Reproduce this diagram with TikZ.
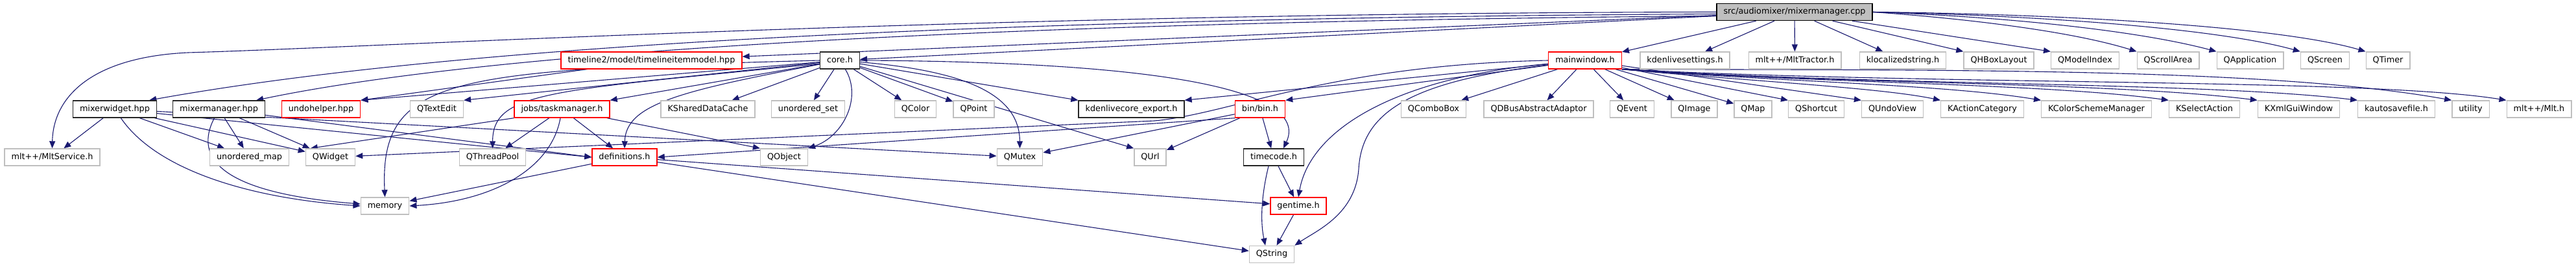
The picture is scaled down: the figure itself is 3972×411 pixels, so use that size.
\documentclass[tikz,border=0pt]{standalone}
\usepackage{fontspec}
\setmainfont{DejaVu Sans}
\usetikzlibrary{arrows.meta, backgrounds}
\definecolor{edgeblue}{RGB}{25,25,112}
\definecolor{extgray}{RGB}{191,191,191}

\tikzset{
  box/.style={rectangle, fill=white, line width=1.4pt, minimum height=26pt,
    inner xsep=10.5pt, inner ysep=0pt, text height=9.6pt, text depth=2.6pt,
    font=\fontsize{12.8pt}{15pt}\selectfont},
  srcbox/.style={box, draw=black, fill=extgray},
  docbox/.style={box, draw=black!85},
  redbox/.style={box, draw=red},
  extbox/.style={box, draw=extgray},
  dep/.style={draw=edgeblue, line width=1.1pt, -{Triangle[length=11pt,width=9pt]}},
}

\begin{document}
\begin{tikzpicture}[x=1pt, y=-1pt]
    \useasboundingbox (0,0) rectangle (3972,411);

    % the file itself
    \node[srcbox] (cpp) at (2767,18.5) {src/audiomixer/mixermanager.cpp};

    % first level
    \node[redbox] (tlmodel) at (1004.5,93) {timeline2/model/timelineitemmodel.hpp};
    \node[docbox] (core) at (1295,93) {core.h};
    \node[redbox] (mainwin) at (2444,93) {mainwindow.h};
    \node[extbox] (kdsettings) at (2598,93) {kdenlivesettings.h};
    \node[extbox] (mlttractor) at (2767.5,93) {mlt++/MltTractor.h};
    \node[extbox] (klocal) at (2934,93) {klocalizedstring.h};
    \node[extbox] (qhbox) at (3082,93) {QHBoxLayout};
    \node[extbox] (qmodelidx) at (3215,93) {QModelIndex};
    \node[extbox] (qscroll) at (3343,93) {QScrollArea};
    \node[extbox] (qapp) at (3469.5,93) {QApplication};
    \node[extbox] (qscreen) at (3585,93) {QScreen};
    \node[extbox] (qtimer) at (3682,93) {QTimer};

    % second level
    \node[docbox] (mixwidget) at (177,168) {mixerwidget.hpp};
    \node[docbox] (mixmgrh) at (337.5,168) {mixermanager.hpp};
    \node[redbox] (undohelper) at (495,168) {undohelper.hpp};
    \node[extbox] (qtextedit) at (673.5,168) {QTextEdit};
    \node[redbox] (taskmgr) at (866.5,168) {jobs/taskmanager.h};
    \node[extbox] (kshared) at (1091.5,168) {KSharedDataCache};
    \node[extbox] (uset) at (1246,168) {unordered\_set};
    \node[extbox] (qcolor) at (1411.5,168) {QColor};
    \node[extbox] (qpoint) at (1501.5,168) {QPoint};
    \node[docbox] (coreexport) at (1744.5,168) {kdenlivecore\_export.h};
    \node[redbox] (bin) at (1943,168) {bin/bin.h};
    \node[extbox] (qcombo) at (2210.5,168) {QComboBox};
    \node[extbox] (qdbus) at (2372.5,168) {QDBusAbstractAdaptor};
    \node[extbox] (qevent) at (2516.5,168) {QEvent};
    \node[extbox] (qimage) at (2612.5,168) {QImage};
    \node[extbox] (qmap) at (2703,168) {QMap};
    \node[extbox] (qshortcut) at (2800.5,168) {QShortcut};
    \node[extbox] (qundoview) at (2918,168) {QUndoView};
    \node[extbox] (kactcat) at (3056.5,168) {KActionCategory};
    \node[extbox] (kcolor) at (3232.5,168) {KColorSchemeManager};
    \node[extbox] (kselect) at (3399,168) {KSelectAction};
    \node[extbox] (kxmlgui) at (3544.5,168) {KXmlGuiWindow};
    \node[extbox] (kautosave) at (3695,168) {kautosavefile.h};
    \node[extbox] (utility) at (3809.5,168) {utility};
    \node[extbox] (mlth) at (3915,168) {mlt++/Mlt.h};

    % third level
    \node[extbox] (mltservice) at (80.5,242) {mlt++/MltService.h};
    \node[extbox] (umap) at (384.5,242) {unordered\_map};
    \node[extbox] (qwidget) at (509.5,242) {QWidget};
    \node[extbox] (qthreadpool) at (759.5,242) {QThreadPool};
    \node[redbox] (defs) at (963,242) {definitions.h};
    \node[extbox] (qobject) at (1209,242) {QObject};
    \node[extbox] (qmutex) at (1572.5,242) {QMutex};
    \node[extbox] (qurl) at (1773.5,242) {QUrl};
    \node[docbox] (timecode) at (1964,242) {timecode.h};

    % bottom
    \node[extbox] (memory) at (593.5,317) {memory};
    \node[redbox] (gentime) at (2002,317) {gentime.h};
    \node[extbox] (qstring) at (1961,391.5) {QString};

    \begin{scope}[on background layer]
    % includes of the cpp
    \draw[dep] (cpp.west) .. controls (1500,20) and (600,72) .. (290,81) .. controls (140,88) and (82,150) .. (mltservice.north);
    \draw[dep] ([yshift=-3pt]cpp.west) .. controls (1500,28) and (700,70) .. ([xshift=-12pt]mixwidget.north east);
    \draw[dep] ([yshift=-6pt]cpp.west) .. controls (1500,34) and (750,80) .. ([xshift=-14pt]mixmgrh.north east);
    \draw[dep] (cpp) -- (tlmodel);
    \draw[dep] (cpp) -- (core);
    \draw[dep] (cpp) -- (mainwin);
    \draw[dep] (cpp) -- (kdsettings);
    \draw[dep] (cpp) -- (mlttractor);
    \draw[dep] (cpp) -- (klocal);
    \draw[dep] (cpp) -- (qhbox.north west);
    \draw[dep] (cpp) -- (qmodelidx.north west);
    \draw[dep] (cpp.east) .. controls (3050,30) and (3200,50) .. (qscroll.north west);
    \draw[dep] (cpp.east) .. controls (3100,26) and (3300,48) .. (qapp.north west);
    \draw[dep] (cpp.east) .. controls (3150,24) and (3420,44) .. (qscreen.north west);
    \draw[dep] (cpp.east) .. controls (3200,22) and (3520,42) .. (qtimer.north west);

    \draw[dep] (tlmodel) -- (undohelper.north east);

    % core.h
    \draw[dep] (core) -- (undohelper.north east);
    \draw[dep] (core) -- (qtextedit.north east);
    \draw[dep] (core) -- (taskmgr.north east);
    \draw[dep] (core.west) .. controls (700,108) and (585,115) .. (memory.north);
    \draw[dep] ([yshift=-5pt]core.west) .. controls (850,140) and (760,140) .. (qthreadpool.north);
    \draw[dep] (core) .. controls (1050,140) and (965,160) .. (defs.north);
    \draw[dep] (core) -- (kshared);
    \draw[dep] (core) -- (uset);
    \draw[dep] (core) .. controls (1330,150) and (1300,210) .. (qobject.north east);
    \draw[dep] (core) -- (qcolor);
    \draw[dep] (core) -- (qpoint);
    \draw[dep] (core) -- (coreexport.north west);
    \draw[dep] (core) .. controls (1500,110) and (1572,150) .. (qmutex.north);
    \draw[dep] (core) -- (qurl.north west);
    \draw[dep] (core.east) .. controls (1800,95) and (2020,140) .. ([xshift=15pt]timecode.north);

    % mixerwidget.hpp and mixermanager.hpp
    \draw[dep] (mixwidget) -- (mltservice);
    \draw[dep] (mixwidget) -- (umap);
    \draw[dep] (mixwidget) -- (qwidget);
    \draw[dep] (mixwidget) .. controls (240,260) and (380,305) .. (memory.west);
    \draw[dep] (mixwidget) -- (defs.west);
    \draw[dep] (mixwidget) -- (qmutex);
    \draw[dep] (mixmgrh) .. controls (290,260) and (380,300) .. ([yshift=3pt]memory.west);
    \draw[dep] (mixmgrh) -- (umap);
    \draw[dep] (mixmgrh) -- (qwidget);
    \draw[dep] (mixmgrh) -- (defs.west);

    % jobs/taskmanager.h
    \draw[dep] (taskmgr.south west) -- ([xshift=8pt]qwidget.north west);
    \draw[dep] (taskmgr) -- (qthreadpool);
    \draw[dep] (taskmgr) .. controls (850,260) and (760,310) .. (memory.east);
    \draw[dep] (taskmgr) -- (defs);
    \draw[dep] (taskmgr) -- (qobject.north west);

    % definitions.h
    \draw[dep] (defs) -- (memory);
    \draw[dep] (defs) -- (gentime);
    \draw[dep] (defs) -- (qstring);

    % mainwindow.h
    \draw[dep] (mainwin.west) .. controls (2050,100) and (1900,175) .. (1780,186) -- (qwidget);
    \draw[dep] (mainwin) -- (coreexport.north east);
    \draw[dep] (mainwin) -- (bin.north east);
    \draw[dep] (mainwin) .. controls (2150,120) and (2020,200) .. (gentime.north);
    \draw[dep] (mainwin) .. controls (2180,125) and (2100,170) .. (2095,260) .. controls (2090,330) and (2030,355) .. (qstring.north east);
    \draw[dep] (mainwin) -- (qcombo);
    \draw[dep] (mainwin) -- (qdbus);
    \draw[dep] (mainwin) -- (qevent);
    \draw[dep] (mainwin) -- (qimage);
    \draw[dep] (mainwin) -- (qmap);
    \draw[dep] (mainwin) -- (qshortcut.north west);
    \draw[dep] (mainwin) -- (qundoview.north west);
    \draw[dep] (mainwin.south east) .. controls (2700,125) and (2900,135) .. (kactcat.north west);
    \draw[dep] (mainwin.south east) .. controls (2750,126) and (3000,130) .. (kcolor.north west);
    \draw[dep] (mainwin.south east) .. controls (2800,128) and (3150,128) .. (kselect.north west);
    \draw[dep] (mainwin.south east) .. controls (2850,130) and (3250,126) .. (kxmlgui.north west);
    \draw[dep] (mainwin.south east) .. controls (2900,132) and (3400,126) .. (kautosave.north west);
    \draw[dep] (mainwin.south east) .. controls (3000,108) and (3500,104) .. (utility.north west);
    \draw[dep] (mainwin.south east) .. controls (3000,132) and (3650,120) .. (mlth.north west);

    % bin/bin.h
    \draw[dep] (bin.south west) -- (defs.east);
    \draw[dep] (bin) -- (qmutex);
    \draw[dep] (bin) -- (qurl);
    \draw[dep] (bin) -- (timecode);

    % timecode.h and gentime.h
    \draw[dep] (timecode) -- (gentime);
    \draw[dep] ([xshift=-8pt]timecode.south) .. controls (1945,300) and (1943,340) .. ([xshift=-10pt]qstring.north);
    \draw[dep] (gentime) -- (qstring);
    \end{scope}
\end{tikzpicture}
\end{document}
